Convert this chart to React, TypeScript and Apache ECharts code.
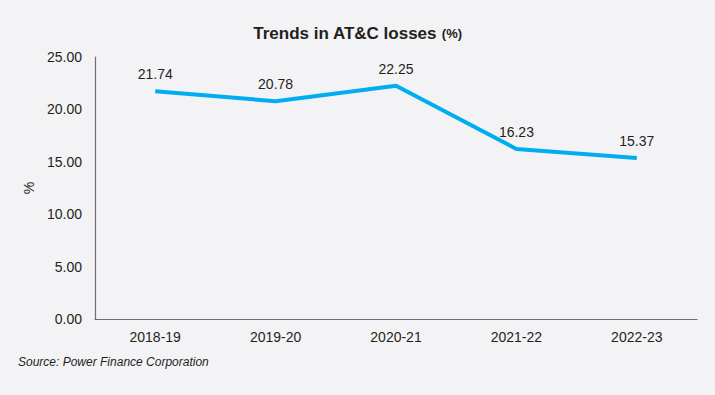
import React, { useEffect, useRef } from "react";
import * as echarts from "echarts";

const categories = ["2018-19", "2019-20", "2020-21", "2021-22", "2022-23"];
const lossValues = [21.74, 20.78, 22.25, 16.23, 15.37];
const yTicks = { min: 0, max: 25, interval: 5 };

const FONT = "'Liberation Sans', Arial, sans-serif";

export default function App() {
  const ref = useRef<HTMLDivElement>(null);
  useEffect(() => {
    document.body.style.margin = "0";
    const chart = echarts.init(ref.current!, null, { renderer: "svg" });
    chart.setOption({
      animation: false,
      backgroundColor: "#f3f3f5",
      textStyle: { fontFamily: FONT },
      title: {
        text: "{a|Trends in AT&C losses} {b|(%)}",
        left: "center",
        top: 19,
        textStyle: {
          rich: {
            a: { fontFamily: FONT, fontSize: 17, fontWeight: "bold", color: "#231f20" },
            b: { fontFamily: FONT, fontSize: 13, fontWeight: "bold", color: "#231f20" },
          },
        },
      },
      grid: { left: 95, right: 18, top: 57, bottom: 76, containLabel: false },
      xAxis: {
        type: "category",
        data: categories,
        boundaryGap: true,
        axisLine: { lineStyle: { color: "#6d6e71", width: 1.2 } },
        axisTick: { show: false },
        axisLabel: { color: "#231f20", fontSize: 14, margin: 11, fontFamily: FONT },
      },
      yAxis: {
        type: "value",
        min: yTicks.min,
        max: yTicks.max,
        interval: yTicks.interval,
        name: "%",
        nameLocation: "middle",
        nameGap: 53,
        nameTextStyle: { color: "#231f20", fontSize: 14, fontFamily: FONT },
        axisLine: { show: true, lineStyle: { color: "#6d6e71", width: 1.2 } },
        axisTick: { show: false },
        splitLine: { show: false },
        axisLabel: {
          color: "#231f20",
          fontSize: 14,
          margin: 13,
          fontFamily: FONT,
          formatter: (v: number) => v.toFixed(2),
        },
      },
      series: [
        {
          type: "line",
          data: lossValues,
          showSymbol: true,
          symbol: "circle",
          symbolSize: 2,
          itemStyle: { color: "rgba(0,174,239,0)" },
          lineStyle: { color: "#00aeef", width: 4 },
          label: {
            show: true,
            position: "top",
            distance: 9,
            color: "#231f20",
            opacity: 1,
            fontSize: 14,
            fontFamily: FONT,
            formatter: (p: any) => Number(p.value).toFixed(2),
          },
        },
      ],
      graphic: [
        {
          type: "text",
          left: 18,
          top: 356,
          style: {
            text: "Source: Power Finance Corporation",
            font: `italic 12px ${FONT}`,
            fill: "#231f20",
          },
        },
      ],
    });
    return () => chart.dispose();
  }, []);
  return <div ref={ref} style={{ width: 715, height: 395 }} />;
}
